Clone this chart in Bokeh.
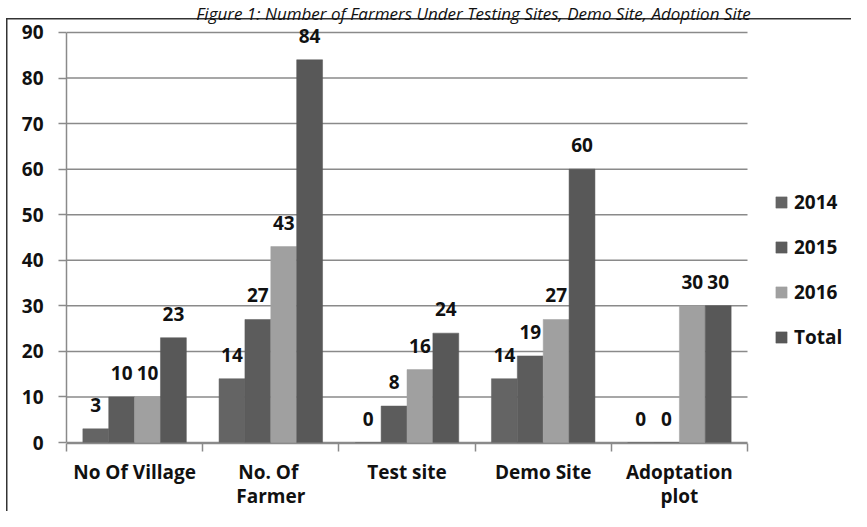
from bokeh.plotting import figure
from bokeh.models import (ColumnDataSource, Range1d, FixedTicker, LinearAxis,
                          Legend, LegendItem, Label)
from bokeh.core.properties import value
from bokeh.embed import file_html
from bokeh.resources import INLINE

# ---- data ----
cat_line1 = ["No Of Village", "No.  Of", "Test site", "Demo Site", "Adoptation"]
cat_line2 = ["", "Farmer", "", "", "plot"]
series_names = ["2014", "2015", "2016", "Total"]
v2014 = [3, 14, 0, 14, 0]
v2015 = [10, 27, 8, 19, 0]
v2016 = [10, 43, 16, 27, 30]
vtotal = [23, 84, 24, 60, 30]
y_ticks = [0, 10, 20, 30, 40, 50, 60, 70, 80, 90]
title_text = "Figure 1: Number of Farmers Under Testing Sites, Demo Site, Adoption Site"

series_values = [v2014, v2015, v2016, vtotal]
colors = ["#646464", "#5c5c5c", "#a0a0a0", "#585858"]
FONT = "Open Sans"
FS = "19px"
GRID = "#8a8a8a"
INK = "#111111"

n_cat = len(cat_line1)
y_max = y_ticks[-1]

W, H = 851, 511
LEFT, BOTTOM = 66, 68
px_per_cat = 136.2
px_per_unit = 4.556
frame_w = W - LEFT
frame_h = H - BOTTOM
x_end = frame_w / px_per_cat
y_start = -1.0 / px_per_unit
y_end = y_start + frame_h / px_per_unit

p = figure(width=W, height=H, x_range=Range1d(0, x_end), y_range=Range1d(y_start, y_end),
           output_backend="svg", toolbar_location=None,
           min_border_left=LEFT, min_border_right=0, min_border_top=0, min_border_bottom=BOTTOM)
p.outline_line_color = None
p.background_fill_color = None
p.border_fill_color = None
# outer frame of the original figure (top and left edges), painted behind the canvas
p.styles = {
    "background": ("linear-gradient(#333333, #333333) 6px 18px / 100% 1.5px no-repeat, "
                   "linear-gradient(#333333, #333333) 6px 18px / 1.5px 100% no-repeat, white"),
}

p.xgrid.visible = False
p.ygrid.visible = False

# horizontal grid lines over the category span only
p.segment(x0=0, x1=n_cat, y0=y_ticks, y1=y_ticks, line_color=GRID, line_width=1.5)

# y axis
p.yaxis.ticker = FixedTicker(ticks=y_ticks)
p.yaxis.bounds = (0, y_max)
p.yaxis.axis_line_color = GRID
p.yaxis.axis_line_width = 1.5
p.yaxis.major_tick_line_color = GRID
p.yaxis.major_tick_line_width = 1.5
p.yaxis.major_tick_out = 8
p.yaxis.major_tick_in = 0
p.yaxis.minor_tick_line_color = None
p.yaxis.major_label_standoff = 15
p.yaxis.major_label_text_font = FONT
p.yaxis.major_label_text_font_size = FS
p.yaxis.major_label_text_font_style = "bold"
p.yaxis.major_label_text_color = INK

# x axis (first line of category names)
centers = [i + 0.5 for i in range(n_cat)]
bounds = [float(i) for i in range(n_cat + 1)]
p.xaxis.ticker = FixedTicker(ticks=centers, minor_ticks=bounds)
p.xaxis.bounds = (0, n_cat)
p.xaxis.major_label_overrides = {c: t for c, t in zip(centers, cat_line1)}
p.xaxis.axis_line_color = GRID
p.xaxis.axis_line_width = 1.5
p.xaxis.major_tick_line_color = None
p.xaxis.major_tick_out = 0
p.xaxis.major_tick_in = 0
p.xaxis.minor_tick_line_color = GRID
p.xaxis.minor_tick_line_width = 1.5
p.xaxis.minor_tick_out = 8
p.xaxis.minor_tick_in = 0
p.xaxis.major_label_standoff = 7
p.xaxis.major_label_text_font = FONT
p.xaxis.major_label_text_font_size = FS
p.xaxis.major_label_text_font_style = "bold"
p.xaxis.major_label_text_color = INK

# x axis (second line of category names)
ax2 = LinearAxis(ticker=FixedTicker(ticks=centers),
                 major_label_overrides={c: t for c, t in zip(centers, cat_line2)},
                 axis_line_color=None, major_tick_line_color=None, minor_tick_line_color=None,
                 major_tick_out=0, major_tick_in=0, minor_tick_out=0, minor_tick_in=0,
                 major_label_standoff=-5,
                 major_label_text_font=FONT, major_label_text_font_size=FS,
                 major_label_text_font_style="bold", major_label_text_color=INK)
p.add_layout(ax2, "below")

# bars + data labels
bw = 0.19
items = []
for j, (name, vals, col) in enumerate(zip(series_names, series_values, colors)):
    xs = [i + 0.5 + (j - 1.5) * bw for i in range(len(vals))]
    src = ColumnDataSource(dict(x=xs, top=vals, lab=[str(v) for v in vals]))
    r = p.vbar(x="x", top="top", bottom=0, width=bw, source=src,
               fill_color=col, line_color=col, line_width=0.5)
    p.text(x="x", y="top", text="lab", source=src, text_align="center",
           text_baseline="middle", y_offset=-24, text_font=value(FONT),
           text_font_size=FS, text_font_style="bold", text_color=INK)
    items.append(LegendItem(label=name, renderers=[r]))

legend = Legend(items=items, location=(708, 93), orientation="vertical",
                glyph_width=14, glyph_height=14, label_standoff=6, spacing=19,
                padding=0, margin=0, border_line_color=None, background_fill_alpha=0,
                label_text_font=FONT, label_text_font_size=FS,
                label_text_font_style="bold", label_text_color=INK)
p.add_layout(legend)

# figure caption above the chart box
title = Label(x=473 - LEFT, y=frame_h - 13, x_units="screen", y_units="screen",
              text=title_text, text_align="center", text_baseline="alphabetic",
              text_font=FONT, text_font_size="17px", text_font_style="italic",
              text_color=INK)
p.add_layout(title)

open("out.html", "w").write(file_html(p, INLINE))
